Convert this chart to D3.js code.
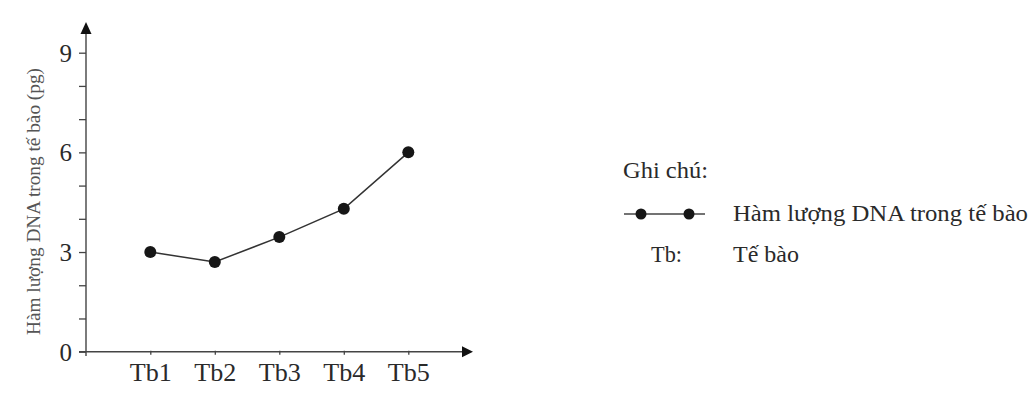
<!DOCTYPE html>
<html><head><meta charset="utf-8">
<script src="https://cdn.jsdelivr.net/npm/d3@7"></script>
<style>body{margin:0;background:#fff}svg{display:block}</style>
</head><body>
<svg id="c" width="1034" height="416"></svg>
<script>
const categories = ["Tb1","Tb2","Tb3","Tb4","Tb5"];
const dnaValues = [3.0, 2.7, 3.45, 4.3, 6.0];
const yTickValues = [0,1,2,3,4,5,6,7,8,9];
const yTickLabels = [0,3,6,9];
const yLabel = "Hàm lượng DNA trong tế bào (pg)";
const legendTitle = "Ghi chú:";
const legendSeries = "Hàm lượng DNA trong tế bào";
const legendAbbr = "Tb:";
const legendAbbrText = "Tế bào";

const svg = d3.select("#c");
const font = "'Liberation Serif', 'DejaVu Serif', serif";
const ink = "#2a2a2a";

const x = d3.scalePoint().domain(categories).range([150.3, 408.3]);
const y = d3.scaleLinear().domain([0, 9]).range([351.7, 52.7]);
const axisX = 86;

// y axis line
svg.append("line").attr("x1", axisX).attr("x2", axisX).attr("y1", 356).attr("y2", 30)
  .attr("stroke", "#444").attr("stroke-width", 1.4);
svg.append("path").attr("d", `M${axisX},22 L${axisX-5.5},34 L${axisX+5.5},34 Z`).attr("fill", "#111");

// y ticks
const yAxis = d3.axisLeft(y).tickValues(yTickValues).tickSize(7).tickPadding(7)
  .tickFormat(d => yTickLabels.includes(d) ? d : "");
const gy = svg.append("g").attr("transform", `translate(${axisX},0)`).call(yAxis);
gy.select(".domain").remove();
gy.selectAll(".tick line").attr("stroke", "#444").attr("stroke-width", 1.3);
gy.selectAll(".tick text").attr("font-family", font).attr("font-size", 25).attr("fill", ink).attr("dy", "0.34em");

// x axis line
svg.append("line").attr("x1", 79).attr("x2", 466).attr("y1", y(0)).attr("y2", y(0))
  .attr("stroke", "#444").attr("stroke-width", 1.4);
svg.append("path").attr("d", `M473,${y(0)} L462,${y(0)-5.5} L462,${y(0)+5.5} Z`).attr("fill", "#111");

const xAxis = d3.axisBottom(x).tickSize(4).tickPadding(9);
const gx = svg.append("g").attr("transform", `translate(0,${y(0)-1})`).call(xAxis);
gx.select(".domain").remove();
gx.selectAll(".tick line").attr("stroke", "#444").attr("stroke-width", 1.3);
gx.selectAll(".tick text").attr("font-family", font).attr("font-size", 25).attr("fill", ink)
  .attr("textLength", 42).attr("lengthAdjust", "spacingAndGlyphs");

// y label
svg.append("text").attr("transform", `translate(40,${(335+68)/2}) rotate(-90)`)
  .attr("text-anchor", "middle").attr("font-family", font).attr("font-size", 18)
  .attr("textLength", 267).attr("lengthAdjust", "spacingAndGlyphs")
  .attr("fill", "#555").text(yLabel);

// line + points
const line = d3.line().x((d, i) => x(categories[i])).y(d => y(d));
svg.append("path").datum(dnaValues).attr("d", line).attr("fill", "none")
  .attr("stroke", "#333").attr("stroke-width", 1.5);
svg.selectAll("circle.pt").data(dnaValues).join("circle").attr("class", "pt")
  .attr("cx", (d, i) => x(categories[i])).attr("cy", d => y(d)).attr("r", 6).attr("fill", "#161616");

// legend
function ltext(xp, yp, t, len) {
  svg.append("text").attr("x", xp).attr("y", yp).attr("font-family", font).attr("font-size", 23)
    .attr("fill", ink).attr("textLength", len).attr("lengthAdjust", "spacingAndGlyphs").text(t);
}
ltext(623, 178, legendTitle, 85);
svg.append("line").attr("x1", 624).attr("x2", 705).attr("y1", 214).attr("y2", 214)
  .attr("stroke", "#444").attr("stroke-width", 1.5);
[641, 689].forEach(cx => svg.append("circle").attr("cx", cx).attr("cy", 214).attr("r", 5.5).attr("fill", "#161616"));
ltext(733, 221, legendSeries, 295);
ltext(651, 262, legendAbbr, 31);
ltext(733, 262, legendAbbrText, 66);
</script>
</body></html>
